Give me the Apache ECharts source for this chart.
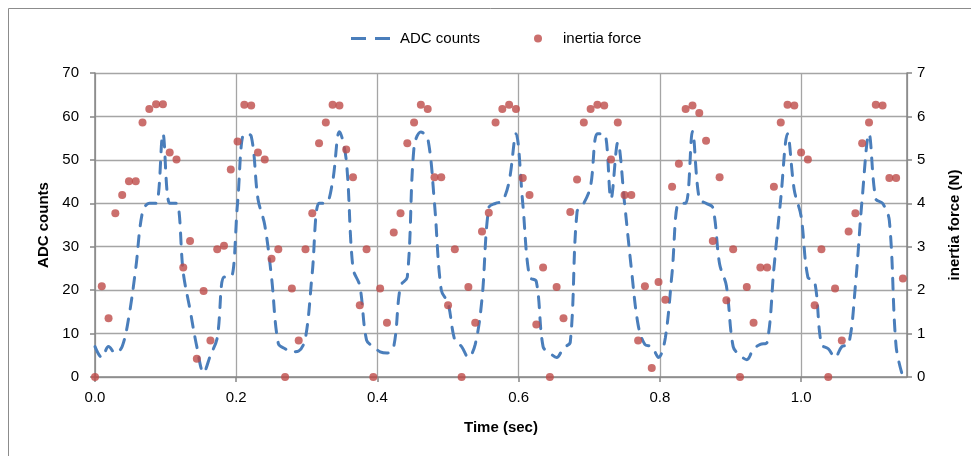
<!DOCTYPE html>
<html>
<head>
<meta charset="utf-8">
<script src="https://cdn.jsdelivr.net/npm/echarts@6/dist/echarts.min.js"></script>
<style>
html,body{margin:0;padding:0;background:#fff;}
#chart{width:971px;height:456px;}
</style>
</head>
<body>
<div id="chart"></div>
<script>
// Time stamps (sec)
var timeSec = [0,0.0096,0.0192,0.0288,0.0385,0.0481,0.0577,0.0673,0.0769,0.0865,
0.0962,0.1058,0.1154,0.125,0.1346,0.1442,0.1538,0.1635,0.1731,0.1827,
0.1923,0.2019,0.2115,0.2212,0.2308,0.2404,0.25,0.2596,0.2692,0.2788,
0.2885,0.2981,0.3077,0.3173,0.3269,0.3365,0.3462,0.3558,0.3654,0.375,
0.3846,0.3942,0.4038,0.4135,0.4231,0.4327,0.4423,0.4519,0.4615,0.4712,
0.4808,0.4904,0.5,0.5096,0.5192,0.5288,0.5385,0.5481,0.5577,0.5673,
0.5769,0.5865,0.5962,0.6058,0.6154,0.625,0.6346,0.6442,0.6538,0.6635,
0.6731,0.6827,0.6923,0.7019,0.7115,0.7212,0.7308,0.7404,0.75,0.7596,
0.7692,0.7788,0.7885,0.7981,0.8077,0.8173,0.8269,0.8365,0.8462,0.8558,
0.8654,0.875,0.8846,0.8942,0.9038,0.9135,0.9231,0.9327,0.9423,0.9519,
0.9615,0.9712,0.9808,0.9904,1.0,1.0096,1.0192,1.0288,1.0385,1.0481,
1.0577,1.0673,1.0769,1.0865,1.0962,1.1058,1.1154,1.125,1.1346,1.1442];

// ADC counts (left axis)
var adcCounts = [7,4.5,7,5.5,7,14,25,38,40,40,
56,40,40,24,15.5,7,1,5,9,23,
23,40,56,55.5,41,35,23,7.7,6.5,5.8,
6,9,24,40,40,45,56.5,50,25,21,
8.5,7,5.8,5.5,7,21,23,53,56.4,55,
40,20,17,8.5,7,4.5,7.5,18,39,40,
40.5,45,56,40,23,22,7,5.5,4.5,6.7,
8,38,40,44,56,56,41,54,40,25,
12,7.5,7,4.5,9,24,40,40,56.5,41,
40,39,26,21,7,5,4,6.5,7.5,8,
25,41,56,43,37,23,22,7.5,6.5,4.5,
7,7.5,21,41,56,41,40,36,7,0];

// Inertia force (N) (right axis)
var inertiaForce = [0,2.09,1.35,3.77,4.19,4.51,4.51,5.86,6.17,6.28,
6.28,5.17,5.01,2.52,3.13,0.42,1.98,0.84,2.94,3.02,
4.78,5.42,6.27,6.25,5.17,5.01,2.72,2.94,0,2.04,
0.84,2.94,3.77,5.38,5.86,6.27,6.25,5.24,4.6,1.65,
2.94,0,2.04,1.25,3.33,3.77,5.38,5.86,6.27,6.17,
4.6,4.6,1.65,2.94,0,2.07,1.25,3.35,3.78,5.86,
6.17,6.27,6.17,4.58,4.19,1.21,2.52,0,2.07,1.35,
3.8,4.55,5.86,6.17,6.27,6.25,5.01,5.86,4.19,4.19,
0.84,2.09,0.21,2.19,1.78,4.38,4.91,6.17,6.25,6.08,
5.44,3.13,4.6,1.77,2.94,0,2.07,1.25,2.52,2.52,
4.38,5.86,6.27,6.25,5.17,5.01,1.65,2.94,0,2.04,
0.84,3.35,3.77,5.38,5.86,6.27,6.25,4.58,4.58,2.27];

var seriesNames = ['ADC counts', 'inertia force'];
var axisNames = {x: 'Time (sec)', left: 'ADC counts', right: 'inertia force (N)'};

var adcData = timeSec.map(function (t, i) { return [t, adcCounts[i]]; });
var forceData = timeSec.map(function (t, i) { return [t, inertiaForce[i]]; });

var FONT = 'Liberation Sans';
var FS = 15;
var axisLineColor = '#868686';
var gridColor = '#A5A5A5';
var blue = '#4A7EBB';
var red = '#BE4B48';

var chart = echarts.init(document.getElementById('chart'), null, {renderer: 'canvas'});
chart.setOption({
  animation: false,
  backgroundColor: '#ffffff',
  textStyle: {fontFamily: FONT},
  graphic: [{
    type: 'rect',
    shape: {x: 8.5, y: 8.5, width: 1000, height: 500},
    style: {fill: 'none', stroke: '#8c8c8c', lineWidth: 1},
    silent: true,
    z: -1
  }],
  legend: [{
    top: 26,
    left: 346,
    itemWidth: 39,
    itemHeight: 3,
    textStyle: {fontFamily: FONT, fontSize: FS, color: '#000', padding: [0, 0, 0, 5]},
    data: [{
      name: seriesNames[0],
      icon: 'path://M0,0 L15,0 L15,3 L0,3 Z M24,0 L39,0 L39,3 L24,3 Z',
      itemStyle: {color: blue}
    }]
  }, {
    top: 26,
    left: 529,
    itemWidth: 8,
    itemHeight: 8,
    textStyle: {fontFamily: FONT, fontSize: FS, color: '#000', padding: [0, 0, 0, 16]},
    data: [{name: seriesNames[1], icon: 'circle'}]
  }],
  grid: {left: 95, right: 64, top: 73, bottom: 79, containLabel: false},
  xAxis: {
    type: 'value',
    min: 0,
    max: 1.15,
    interval: 0.2,
    name: axisNames.x,
    nameLocation: 'middle',
    nameGap: 43,
    nameTextStyle: {fontFamily: FONT, fontSize: FS, fontWeight: 'bold', color: '#000'},
    axisLine: {show: true, onZero: false, lineStyle: {color: axisLineColor, width: 1.5}},
    axisTick: {show: true, inside: false, length: 5, lineStyle: {color: axisLineColor, width: 1.5}},
    axisLabel: {
      showMaxLabel: false,
      margin: 13,
      fontFamily: FONT, fontSize: FS, color: '#000',
      formatter: function (v) { return v.toFixed(1); }
    },
    splitLine: {show: true, lineStyle: {color: gridColor, width: 1.3}}
  },
  yAxis: [{
    type: 'value',
    min: 0,
    max: 70,
    interval: 10,
    position: 'left',
    name: axisNames.left,
    nameLocation: 'middle',
    nameRotate: 90,
    nameGap: 42,
    nameTextStyle: {fontFamily: FONT, fontSize: FS, fontWeight: 'bold', color: '#000'},
    axisLine: {show: true, lineStyle: {color: axisLineColor, width: 1.5}},
    axisTick: {show: true, inside: false, length: 5, lineStyle: {color: axisLineColor, width: 1.5}},
    axisLabel: {margin: 16, fontFamily: FONT, fontSize: FS, color: '#000'},
    splitLine: {show: true, lineStyle: {color: gridColor, width: 1.3}}
  }, {
    type: 'value',
    min: 0,
    max: 7,
    interval: 1,
    position: 'right',
    name: axisNames.right,
    nameLocation: 'middle',
    nameRotate: 90,
    nameGap: 40,
    nameTextStyle: {fontFamily: FONT, fontSize: FS, fontWeight: 'bold', color: '#000'},
    axisLine: {show: true, lineStyle: {color: axisLineColor, width: 1.5}},
    axisTick: {show: true, inside: false, length: 5, lineStyle: {color: axisLineColor, width: 1.5}},
    axisLabel: {margin: 10, fontFamily: FONT, fontSize: FS, color: '#000'},
    splitLine: {show: false}
  }],
  series: [{
    name: seriesNames[0],
    type: 'line',
    yAxisIndex: 0,
    data: adcData,
    symbol: 'none',
    smooth: 0.35,
    lineStyle: {color: blue, width: 3, type: [11, 10], cap: 'round'},
    itemStyle: {color: blue},
    z: 2
  }, {
    name: seriesNames[1],
    type: 'scatter',
    yAxisIndex: 1,
    data: forceData,
    symbol: 'circle',
    symbolSize: 8,
    itemStyle: {color: red},
    z: 3
  }]
});
</script>
</body>
</html>
